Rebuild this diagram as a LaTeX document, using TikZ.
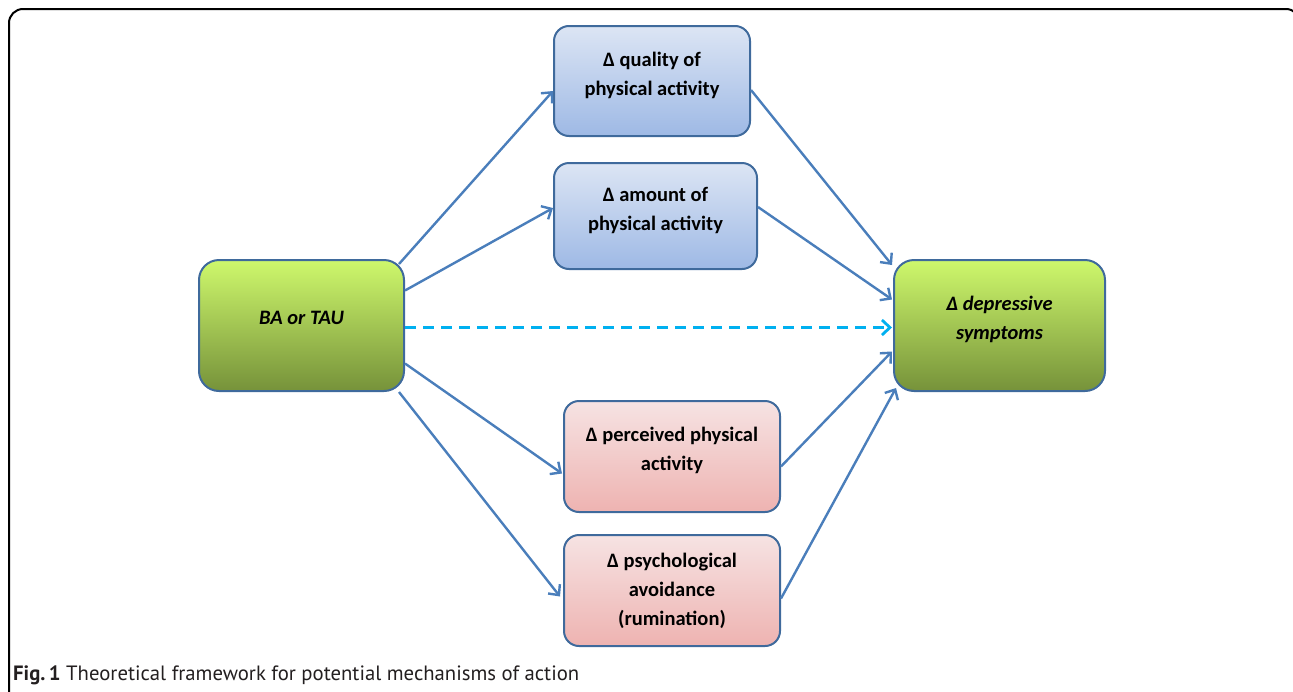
\documentclass[tikz,border=0pt]{standalone}
\usepackage{fontspec}
\setmainfont{Carlito}
\newfontfamily\capfont{PT Sans}
\usetikzlibrary{arrows.meta,calc}
\definecolor{bordc}{HTML}{3F6A9C}
\definecolor{arrc}{HTML}{4A7EBB}
\definecolor{dashc}{HTML}{00B0F0}
\definecolor{bluetop}{HTML}{DCE5F4}
\definecolor{bluebot}{HTML}{9EB9E5}
\definecolor{pinktop}{HTML}{F6E3E3}
\definecolor{pinkbot}{HTML}{EEB3B1}
\definecolor{greentop}{HTML}{CEF86C}
\definecolor{greenbot}{HTML}{76923A}
\definecolor{captc}{HTML}{231F20}
\newcommand\lowstrut{\rule[-15pt]{0pt}{1pt}}
\tikzset{
  box/.style={draw=bordc, line width=2pt, rounded corners=15pt, align=center,
    font=\fontsize{20.5}{29}\selectfont\bfseries, inner sep=0pt},
  bluebox/.style={box, top color=bluetop, bottom color=bluebot},
  pinkbox/.style={box, top color=pinktop, bottom color=pinkbot},
  greenbox/.style={box, top color=greentop, bottom color=greenbot, rounded corners=20pt},
  conn/.style={draw=arrc, line width=2.4pt, -{Straight Barb[length=8pt,width=15pt,line width=2.4pt]}},
  dconn/.style={draw=dashc, line width=2.8pt, dash pattern=on 11pt off 7pt,
    -{Straight Barb[length=8pt,width=15pt,line width=2.8pt]}},
}
\begin{document}
\begin{tikzpicture}[x=1pt,y=-1pt]
\useasboundingbox (0,0) rectangle (1293,691);
\begin{scope}
\clip (0,0) rectangle (1293,691);
\draw[line width=2pt, rounded corners=14pt] (9,720) -- (9,9) -- (1300,9) -- (1300,720);
\end{scope}

\node[greenbox, minimum width=205pt, minimum height=131pt] (ba) at (301.5,325.5) {\itshape BA or TAU\lowstrut};
\node[bluebox, minimum width=196pt, minimum height=110pt] (qual) at (652,81) {Δ quality of\\physical activity\lowstrut};
\node[bluebox, minimum width=203pt, minimum height=106pt] (amt) at (655.5,216) {Δ amount of\\physical activity\lowstrut};
\node[pinkbox, minimum width=216pt, minimum height=111pt] (perc) at (672,456.5) {Δ perceived physical\\activity\lowstrut};
\node[pinkbox, minimum width=216pt, minimum height=111pt] (psy) at (672,590.5) {Δ psychological\\avoidance\\(rumination)};
\node[greenbox, minimum width=211pt, minimum height=131pt] (dep) at (999.5,325.5) {\itshape Δ depressive\\\itshape symptoms\lowstrut};

\draw[conn] ($(ba.north east)+(-6,5)$) -- ($(qual.west)+(0,10)$);
\draw[conn] ($(ba.east)+(0,-35)$) -- ($(amt.west)+(0,-8)$);
\draw[dconn] ($(ba.east)+(0,2)$) -- ($(dep.west)+(-1,2)$);
\draw[conn] ($(ba.east)+(0,38)$) -- ($(perc.west)+(-1,17)$);
\draw[conn] ($(ba.south east)+(-6,0)$) -- ($(psy.west)+(-3,6)$);

\draw[conn] ($(qual.east)+(0,9)$) -- ($(dep.north west)+(-1,6)$);
\draw[conn] ($(amt.east)+(0,-9)$) -- ($(dep.west)+(-1,-26)$);
\draw[conn] ($(perc.east)+(0,10)$) -- ($(dep.west)+(-1,26)$);
\draw[conn] ($(psy.east)+(0,8)$) -- ($(dep.south west)+(3,-4)$);

\node[anchor=base west, inner sep=0pt, text=captc] (cap) at (13,680)
  {\resizebox{566pt}{!}{\capfont\fontsize{20}{24}\selectfont\textbf{Fig.\,1} Theoretical framework for potential mechanisms of action}};
\end{tikzpicture}
\end{document}
